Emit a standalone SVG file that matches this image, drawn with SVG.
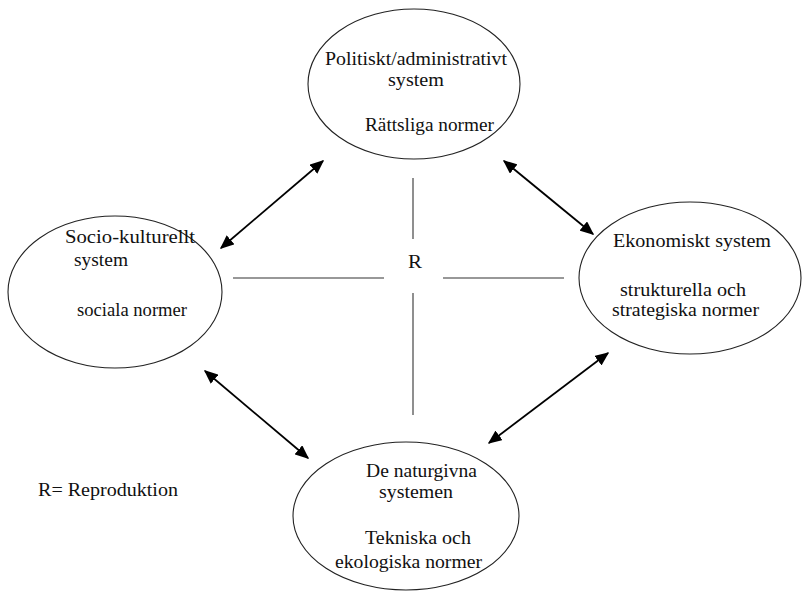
<svg xmlns="http://www.w3.org/2000/svg" width="810" height="591" viewBox="0 0 810 591">
<defs>
<style>
.n ellipse{fill:#fff;stroke:#222;stroke-width:1.1}
.t{font-family:'Liberation Serif','Times New Roman',serif;font-size:19px;fill:#111}
.ln{stroke:#333;stroke-width:1.1}
.ar{stroke:#000;stroke-width:1.8;fill:none;marker-start:url(#ah);marker-end:url(#ah)}
</style>
<marker id="ah" viewBox="0 0 10 10" refX="9" refY="5" markerWidth="14" markerHeight="12" markerUnits="userSpaceOnUse" orient="auto-start-reverse" preserveAspectRatio="none">
<path d="M0,0 L10,5 L0,10 z" fill="#000"/>
</marker>
</defs>
<rect width="810" height="591" fill="#fff"/>
<g id="node-politiskt" class="n">
<ellipse cx="414" cy="84" rx="106" ry="75"/>
<text class="t" x="325" y="65" textLength="182" lengthAdjust="spacingAndGlyphs">Politiskt/administrativt</text>
<text class="t" x="388" y="86" textLength="56" lengthAdjust="spacingAndGlyphs">system</text>
<text class="t" x="365" y="131" textLength="129" lengthAdjust="spacingAndGlyphs">Rättsliga normer</text>
</g>
<g id="node-socio" class="n">
<ellipse cx="115" cy="292" rx="107" ry="76"/>
<text class="t" x="65" y="243" textLength="130" lengthAdjust="spacingAndGlyphs">Socio-kulturellt</text>
<text class="t" x="74" y="266" textLength="54" lengthAdjust="spacingAndGlyphs">system</text>
<text class="t" x="77" y="316" textLength="110" lengthAdjust="spacingAndGlyphs">sociala normer</text>
</g>
<g id="node-ekonomiskt" class="n">
<ellipse cx="690" cy="278" rx="111" ry="76"/>
<text class="t" x="613" y="247" textLength="158" lengthAdjust="spacingAndGlyphs">Ekonomiskt system</text>
<text class="t" x="620" y="296" textLength="126" lengthAdjust="spacingAndGlyphs">strukturella och</text>
<text class="t" x="612" y="316" textLength="147" lengthAdjust="spacingAndGlyphs">strategiska normer</text>
</g>
<g id="node-naturgivna" class="n">
<ellipse cx="406" cy="516" rx="113" ry="74"/>
<text class="t" x="366" y="477" textLength="111" lengthAdjust="spacingAndGlyphs">De naturgivna</text>
<text class="t" x="379" y="498" textLength="74" lengthAdjust="spacingAndGlyphs">systemen</text>
<text class="t" x="365" y="544" textLength="106" lengthAdjust="spacingAndGlyphs">Tekniska och</text>
<text class="t" x="335" y="568" textLength="147" lengthAdjust="spacingAndGlyphs">ekologiska normer</text>
</g>
<g id="connectors">
<line class="ln" x1="413" y1="178" x2="413" y2="239"/>
<line class="ln" x1="413" y1="293" x2="413" y2="415"/>
<line class="ln" x1="233" y1="278" x2="384" y2="278"/>
<line class="ln" x1="443" y1="278" x2="564" y2="278"/>
<line class="ar" x1="221" y1="248" x2="323" y2="161"/>
<line class="ar" x1="504" y1="161" x2="593" y2="234"/>
<line class="ar" x1="205" y1="371" x2="308" y2="458"/>
<line class="ar" x1="608" y1="353" x2="489" y2="443"/>
</g>
<g id="label-r">
<text class="t" x="408" y="268" textLength="14" lengthAdjust="spacingAndGlyphs">R</text>
</g>
<g id="legend">
<text class="t" x="38" y="496" textLength="140" lengthAdjust="spacingAndGlyphs">R= Reproduktion</text>
</g>
</svg>
